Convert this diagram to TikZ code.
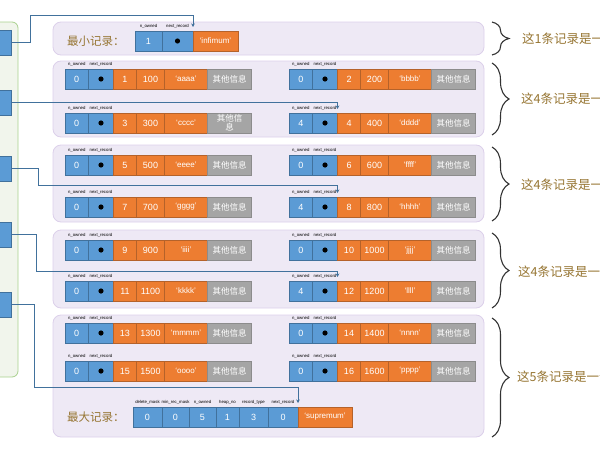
\documentclass[tikz,border=0pt]{standalone}
\usepackage{fontspec}
\setmainfont{Liberation Sans}
\newfontfamily\cjk{Noto Sans CJK SC}
\usetikzlibrary{positioning,arrows.meta,decorations.pathreplacing}
\definecolor{cellblue}{HTML}{5B9BD5}
\definecolor{cellblueline}{HTML}{41719C}
\definecolor{cellorange}{HTML}{ED7D31}
\definecolor{cellorangeline}{HTML}{B5622A}
\definecolor{cellgrey}{HTML}{A5A5A5}
\definecolor{cellgreyline}{HTML}{8C8C8C}
\definecolor{groupfill}{HTML}{EEE9F5}
\definecolor{groupline}{HTML}{DCD0EA}
\definecolor{slotfill}{HTML}{F1F5EC}
\definecolor{slotline}{HTML}{A9D18E}
\definecolor{pointer}{HTML}{41719C}
\definecolor{gold}{HTML}{967532}
\tikzset{
  cell/.style={rectangle, draw, minimum height=20pt, inner sep=0pt, outer sep=0pt,
    text=white, line width=0.6pt, font=\fontsize{9}{9.5}\selectfont},
  bluecell/.style={cell, fill=cellblue, draw=cellblueline},
  orangecell/.style={cell, fill=cellorange, draw=cellorangeline},
  greycell/.style={cell, fill=cellgrey, draw=cellgreyline, align=center,
    font=\cjk\fontsize{8.5}{9}\selectfont},
  strcell/.style={orangecell, font=\fontsize{8}{8.5}\selectfont},
  fieldlabel/.style={inner sep=0pt, font=\fontsize{4.3}{4.3}\selectfont},
  groupbox/.style={draw=groupline, fill=groupfill, rounded corners=8pt, line width=0.8pt},
  slotbox/.style={rectangle, draw=cellblueline, fill=cellblue, line width=0.6pt,
    minimum width=27pt, minimum height=25pt, inner sep=0pt, anchor=north east},
  pointerline/.style={draw=pointer, line width=0.9pt, -{Stealth[length=3.5pt,width=3.5pt]}},
  groupbrace/.style={decorate, decoration={brace, amplitude=17pt}, line width=1.1pt, draw=black!80},
  bracetext/.style={anchor=west, inner sep=0pt, text=gold, font=\cjk\fontsize{12.5}{12.5}\selectfont},
  titletext/.style={anchor=west, inner sep=0pt, text=gold, font=\cjk\fontsize{11.5}{11.5}\selectfont}
}
% one user record: name, x, y, n_owned, key, number, string, other
\newcommand\recrow[8]{%
  \node[bluecell, minimum width=23.5pt, anchor=north west] (#1-o) at (#2,#3) {#4};
  \node[bluecell, minimum width=25pt, right=0pt of #1-o] (#1-n) {};
  \fill (#1-n.center) circle (2.6pt);
  \node[orangecell, minimum width=23pt, right=0pt of #1-n] (#1-k) {#5};
  \node[orangecell, minimum width=28pt, right=0pt of #1-k] (#1-v) {#6};
  \node[strcell, minimum width=43pt, right=0pt of #1-v] (#1-s) {#7};
  \node[greycell, minimum width=44pt, right=0pt of #1-s] (#1-x) {#8};
  \node[fieldlabel] (#1-lo) at ([yshift=4.5pt]#1-o.north) {n\_owned};
  \node[fieldlabel] (#1-ln) at ([yshift=4.5pt]#1-n.north) {next\_record};
}
\begin{document}
\begin{tikzpicture}[x=1pt,y=-1pt]
  \useasboundingbox (0,0) rectangle (600,450);

  \draw[draw=slotline, fill=slotfill, rounded corners=6pt, line width=0.8pt] (-20,22) rectangle (18,377);
  \node[slotbox] (s1) at (12,30) {};
  \node[slotbox] (s2) at (12,90) {};
  \node[slotbox] (s3) at (12,156) {};
  \node[slotbox] (s4) at (12,222) {};
  \node[slotbox] (s5) at (12,292) {};

  \draw[groupbox] (53,22) rectangle (484,55);
  \draw[groupbox] (53,61) rectangle (484,137);
  \draw[groupbox] (53,145) rectangle (484,222);
  \draw[groupbox] (53,230) rectangle (484,308);
  \draw[groupbox] (53,315) rectangle (484,437);

  \node[titletext] (mintitle) at (67,41) {最小记录：};
  \node[bluecell, minimum width=27pt, anchor=north west] (inf-o) at (135,31) {1};
  \node[bluecell, minimum width=31pt, right=0pt of inf-o] (inf-n) {};
  \fill (inf-n.center) circle (2.6pt);
  \node[strcell, minimum width=45pt, right=0pt of inf-n] (inf-s) {`infimum'};
  \node[fieldlabel] (inf-lo) at ([yshift=4.5pt]inf-o.north) {n\_owned};
  \node[fieldlabel] (inf-ln) at ([yshift=4.5pt]inf-n.north) {next\_record};

  \recrow{g1a}{65}{69}{0}{1}{100}{`aaaa'}{其他信息}
  \recrow{g1b}{289}{69}{0}{2}{200}{`bbbb'}{其他信息}
  \recrow{g1c}{65}{113}{0}{3}{300}{`cccc'}{其他信\\息}
  \recrow{g1d}{289}{113}{4}{4}{400}{`dddd'}{其他信息}

  \recrow{g2a}{65}{155}{0}{5}{500}{`eeee'}{其他信息}
  \recrow{g2b}{289}{155}{0}{6}{600}{`ffff'}{其他信息}
  \recrow{g2c}{65}{197}{0}{7}{700}{`gggg'}{其他信息}
  \recrow{g2d}{289}{197}{4}{8}{800}{`hhhh'}{其他信息}

  \recrow{g3a}{65}{240}{0}{9}{900}{`iiii'}{其他信息}
  \recrow{g3b}{289}{240}{0}{10}{1000}{`jjjj'}{其他信息}
  \recrow{g3c}{65}{281}{0}{11}{1100}{`kkkk'}{其他信息}
  \recrow{g3d}{289}{281}{4}{12}{1200}{`llll'}{其他信息}

  \recrow{g4a}{65}{323}{0}{13}{1300}{`mmmm'}{其他信息}
  \recrow{g4b}{289}{323}{0}{14}{1400}{`nnnn'}{其他信息}
  \recrow{g4c}{65}{361}{0}{15}{1500}{`oooo'}{其他信息}
  \recrow{g4d}{289}{361}{0}{16}{1600}{`pppp'}{其他信息}

  \node[titletext] (maxtitle) at (67,417) {最大记录：};
  \node[bluecell, minimum width=29pt, anchor=north west] (sup-1) at (133,407) {0};
  \node[bluecell, minimum width=27pt, right=0pt of sup-1] (sup-2) {0};
  \node[bluecell, minimum width=27pt, right=0pt of sup-2] (sup-3) {5};
  \node[bluecell, minimum width=23pt, right=0pt of sup-3] (sup-4) {1};
  \node[bluecell, minimum width=29pt, right=0pt of sup-4] (sup-5) {3};
  \node[bluecell, minimum width=30pt, right=0pt of sup-5] (sup-6) {0};
  \node[strcell, minimum width=54pt, right=0pt of sup-6] (sup-s) {`supremum'};
  \node[fieldlabel] (sup-l1) at ([yshift=4.5pt]sup-1.north) {delete\_mask};
  \node[fieldlabel] (sup-l2) at ([yshift=4.5pt]sup-2.north) {min\_rec\_mask};
  \node[fieldlabel] (sup-l3) at ([yshift=4.5pt]sup-3.north) {n\_owned};
  \node[fieldlabel] (sup-l4) at ([yshift=4.5pt]sup-4.north) {heap\_no};
  \node[fieldlabel] (sup-l5) at ([yshift=4.5pt]sup-5.north) {record\_type};
  \node[fieldlabel] (sup-l6) at ([yshift=4.5pt]sup-6.north) {next\_record};

  \draw[pointerline] (s1.east) -| (30,15) -| ([yshift=4pt]inf-n.north east);
  \draw[pointerline] (s2.east) -| ([yshift=4pt]g1d-n.north east);
  \draw[pointerline] (s3.east) -| (38,185) -| ([yshift=4pt]g2d-n.north east);
  \draw[pointerline] (s4.east) -| (36,271) -| ([yshift=4pt]g3d-n.north east);
  \draw[pointerline] (s5.east) -| (34,387) -| ([yshift=4pt]sup-6.north east);

  \draw[groupbrace] (492,22) -- (492,55);
  \draw[groupbrace] (492,63) -- (492,135);
  \draw[groupbrace] (492,147) -- (492,221);
  \draw[groupbrace] (492,233) -- (492,308);
  \draw[groupbrace] (492,318) -- (492,437);
  \node[bracetext] (t1) at (522,39) {这1条记录是一个组};
  \node[bracetext] (t2) at (521,99) {这4条记录是一个组};
  \node[bracetext] (t3) at (521,185) {这4条记录是一个组};
  \node[bracetext] (t4) at (518,272) {这4条记录是一个组};
  \node[bracetext] (t5) at (517,377) {这5条记录是一个组};
\end{tikzpicture}
\end{document}
